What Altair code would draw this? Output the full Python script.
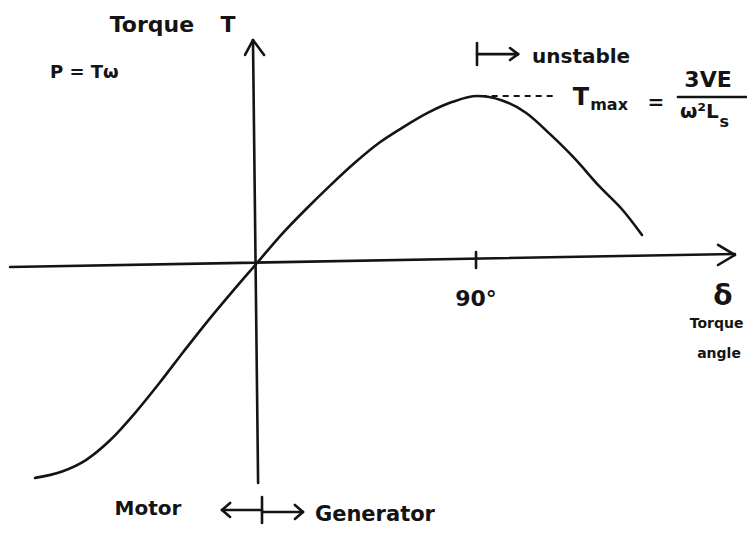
import altair as alt
import pandas as pd

# ---- curve: torque angle (deg) vs torque (units of Tmax)
delta = [-90.8, -80.0, -70.0, -60.0, -50.0, -40.0, -30.0, -20.0, -10.0, 0.0, 10.0,
         20.0, 30.0, 40.0, 50.0, 60.0, 70.0, 80.0, 90.0, 100.0, 110.0, 120.0, 130.0,
         140.0, 150.0, 157.5]
torque = [-1.287, -1.250, -1.180, -1.060, -0.900, -0.720, -0.530, -0.345, -0.170, 0.0,
          0.170, 0.322, 0.465, 0.600, 0.720, 0.815, 0.900, 0.965, 1.000, 0.975, 0.900,
          0.770, 0.625, 0.460, 0.310, 0.168]

# ---- hand-drawn axes, arrows and ticks (data units)
seg_x = [-101.0, 188.6, 188.6, -1.64, -4.9, 2.9, 89.6, 90.0, 90.0, 103.5, 103.5,
         -14.3, -11.0, -11.0, 2.05, 2.05, 15.5, 15.5, 172.2]
seg_y = [-0.024, 0.108, -0.012, 1.335, 1.246, 1.246, 0.066, 1.317, 1.251, 1.287, 1.216,
         -1.479, -1.437, -1.521, -1.401, -1.491, -1.449, -1.533, 0.994]
seg_x2 = [195.5, 195.5, 195.5, 0.45, -1.64, -1.64, 89.6, 90.0, 106.8, 106.8, 106.8,
          2.05, -14.3, -14.3, 2.05, 18.8, 18.8, 18.8, 200.2]
seg_y2 = [0.054, 0.048, 0.048, -1.317, 1.335, 1.335, -0.030, 1.186, 1.251, 1.251, 1.251,
          -1.479, -1.479, -1.479, -1.557, -1.491, -1.491, -1.491, 0.994]

# dashed guide to Tmax
dash_x = [91.5]
dash_x2 = [122.7]
dash_y = [1.0]

# ---- labels
lab_text = ["Torque", "T", "P = Tω", "unstable", "T", "max", "=", "3VE", "ω²L", "s",
            "90°", "δ", "Torque", "angle", "Motor", "Generator"]
lab_x = [-43.0, -11.9, -84.7, 112.5, 132.5, 136.3, 163.2, 184.5, 173.0, 189.2,
         89.6, 190.6, 188.0, 189.0, -44.6, 23.7]
lab_y = [1.383, 1.383, 1.108, 1.198, 0.946, 0.916, 0.922, 1.054, 0.868, 0.814,
         -0.257, -0.251, -0.389, -0.569, -1.509, -1.545]
lab_size = [22, 22, 18, 20, 24, 16, 20, 22, 20, 16, 22, 28, 14, 14, 20, 21]
lab_align = ["center", "center", "left", "left", "center", "left", "center", "center",
             "left", "left", "center", "center", "center", "center", "center", "left"]

W, H = 739, 518
xs = alt.Scale(domain=[-101.86, 200.45], nice=False, zero=False)
ys = alt.Scale(domain=[-1.575, 1.527], nice=False, zero=False)
INK = "#141414"

curve = alt.Chart(pd.DataFrame({"d": delta, "t": torque})).mark_line(
    interpolate="monotone", strokeWidth=2.6, color=INK, strokeCap="round"
).encode(
    x=alt.X("d:Q", scale=xs, axis=None),
    y=alt.Y("t:Q", scale=ys, axis=None),
)

segs = alt.Chart(pd.DataFrame({"x": seg_x, "y": seg_y, "x2": seg_x2, "y2": seg_y2})).mark_rule(
    strokeWidth=2.6, color=INK, strokeCap="round"
).encode(
    x=alt.X("x:Q", scale=xs, axis=None), x2="x2:Q",
    y=alt.Y("y:Q", scale=ys, axis=None), y2="y2:Q",
)

dash = alt.Chart(pd.DataFrame({"x": dash_x, "x2": dash_x2, "y": dash_y})).mark_rule(
    strokeWidth=2, color=INK, strokeDash=[6, 5]
).encode(
    x=alt.X("x:Q", scale=xs, axis=None), x2="x2:Q",
    y=alt.Y("y:Q", scale=ys, axis=None),
)

labels = pd.DataFrame({"text": lab_text, "x": lab_x, "y": lab_y,
                       "size": lab_size, "align": lab_align})


def text_layer(align):
    df = labels[labels["align"] == align]
    return alt.Chart(df).mark_text(
        align=align, baseline="alphabetic", font="DejaVu Sans", fontWeight="bold", color=INK
    ).encode(
        x=alt.X("x:Q", scale=xs, axis=None),
        y=alt.Y("y:Q", scale=ys, axis=None),
        text="text:N",
        size=alt.Size("size:Q", scale=None, legend=None),
    )


chart = alt.layer(curve, segs, dash, text_layer("left"), text_layer("center")).properties(
    width=W, height=H, padding=0, autosize=alt.AutoSizeParams(type="none"),
    background="white",
).configure_view(strokeWidth=0)

chart.save("out.html", embed_options={"renderer": "svg", "actions": False})
